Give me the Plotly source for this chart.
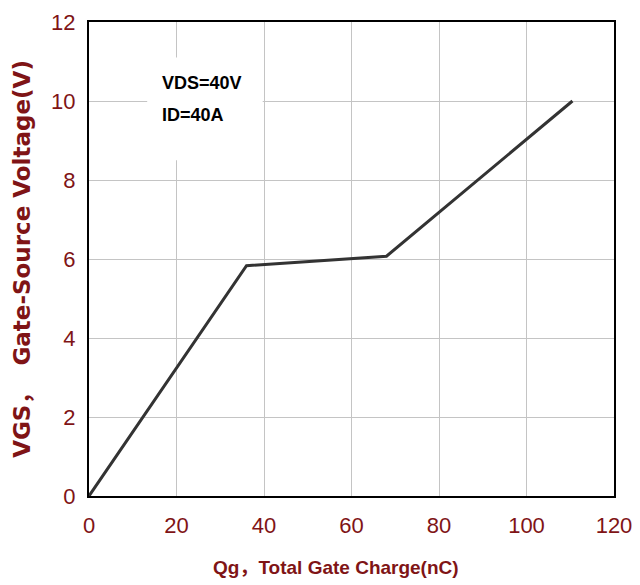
import plotly.graph_objects as go

qg = [0, 36, 68, 110.5]
vgs = [0, 5.83, 6.07, 10.0]
x_ticks = [0, 20, 40, 60, 80, 100, 120]
y_ticks = [0, 2, 4, 6, 8, 10, 12]
note_lines = ["VDS=40V", "ID=40A"]

RED = "#7f1416"
SANS = "Liberation Sans Narrow, Arial Narrow, Liberation Sans, Arial"
TITLE_X = "Liberation Sans, Arial, Noto Sans CJK SC"
TITLE_Y = "DejaVu Sans, Verdana, Noto Sans CJK SC"

fig = go.Figure()
fig.add_trace(go.Scatter(x=qg, y=vgs, mode="lines",
                         line=dict(color="#333333", width=3), showlegend=False))

# white box behind the condition note (hides gridlines)
fig.add_shape(type="rect", xref="x", yref="y", x0=13.3, x1=39.7, y0=8.5, y1=11.1,
              fillcolor="white", line=dict(width=0), layer="between")
for txt, yv in zip(note_lines, [10.45, 9.65]):
    fig.add_annotation(x=16.3, y=yv, xref="x", yref="y", text="<b>%s</b>" % txt,
                       showarrow=False, xanchor="left", yanchor="middle",
                       font=dict(family=SANS, size=18, color="black"))

# x-axis title (placed as annotation to match its offset position)
fig.add_annotation(x=0.47, y=-0.15, xref="paper", yref="paper",
                   text="<b>Qg，Total Gate Charge(nC)</b>", showarrow=False,
                   xanchor="center", yanchor="middle",
                   font=dict(family=TITLE_X, size=19, color=RED))

fig.update_layout(
    width=632, height=577,
    margin=dict(l=81, r=26, t=14, b=89),
    plot_bgcolor="white", paper_bgcolor="white",
    xaxis=dict(range=[0, 120], tickvals=x_ticks, showgrid=True,
               gridcolor="#c4c4c4", gridwidth=1, zeroline=False,
               showline=True, linecolor="black", linewidth=2, mirror=True,
               ticks="", ticklabelstandoff=9, automargin=False,
               tickfont=dict(family=SANS, size=22, color=RED)),
    yaxis=dict(range=[0, 12], tickvals=y_ticks, showgrid=True,
               gridcolor="#c4c4c4", gridwidth=1, zeroline=False,
               showline=True, linecolor="black", linewidth=2, mirror=True,
               ticks="", ticklabelstandoff=7, automargin=False,
               tickfont=dict(family=SANS, size=22, color=RED),
               title=dict(text="<b>VGS，  Gate-Source Voltage(V)</b>", standoff=14,
                          font=dict(family=TITLE_Y, size=23, color=RED))),
)

fig.write_html("out.html")
